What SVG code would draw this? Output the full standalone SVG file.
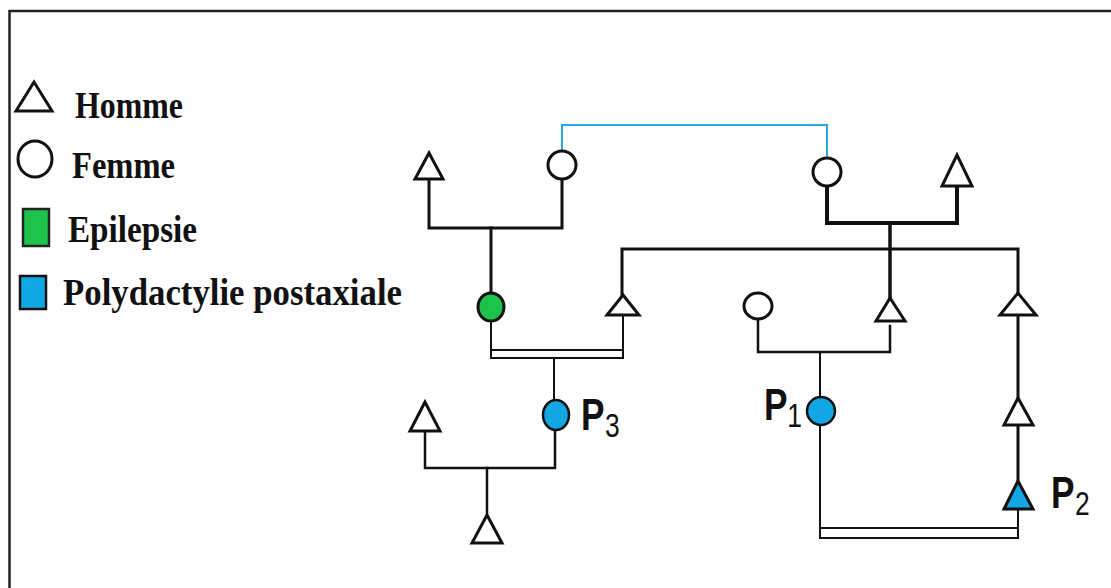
<svg xmlns="http://www.w3.org/2000/svg" width="1111" height="588" viewBox="0 0 1111 588">
<style>
.ln{fill:none;stroke:#111;stroke-width:3;stroke-linecap:square}
.thin{fill:none;stroke:#111;stroke-width:2}
.blue{fill:none;stroke:#2aa8e0;stroke-width:2}
.m{fill:#fff;stroke:#111;stroke-width:3;stroke-linejoin:miter}
.f{fill:#fff;stroke:#111;stroke-width:3}
.aff{fill:#12a6e4}
.epi{fill:#1cc24a}
.leg{font-family:"Liberation Serif",serif;font-weight:bold;font-size:37px;fill:#111}
.pl{font-family:"Liberation Sans",Arial,sans-serif;font-weight:bold;font-size:44px;fill:#111}
.sub{font-weight:normal;font-size:33px}
</style>
<rect width="1111" height="588" fill="#fff"/>
<path d="M9.5 588 V11 H1111" fill="none" stroke="#222" stroke-width="2.5"/>

<g id="legend">
<polygon class="m" points="34,82 16,111 52,111"/>
<text class="leg" x="75" y="118" textLength="108" lengthAdjust="spacingAndGlyphs">Homme</text>
<ellipse class="f" cx="35" cy="159" rx="17" ry="18"/>
<text class="leg" x="72" y="178" textLength="103" lengthAdjust="spacingAndGlyphs">Femme</text>
<rect class="epi" x="23" y="209" width="26" height="37" stroke="#222" stroke-width="2.5"/>
<text class="leg" x="68" y="242" textLength="129" lengthAdjust="spacingAndGlyphs">Epilepsie</text>
<rect class="aff" x="20" y="276" width="26" height="33" stroke="#111" stroke-width="2.5"/>
<text class="leg" x="63" y="305" textLength="339" lengthAdjust="spacingAndGlyphs">Polydactylie postaxiale</text>
</g>

<g id="connectors">
<path class="blue" d="M562 151 V125 H827 V158"/>
<path class="ln" d="M429 179 V228 H562 V179"/>
<path class="ln" d="M491 228 V293"/>
<path class="ln" style="stroke-width:4" d="M827 186 V223 H957 V186"/>
<path class="ln" style="stroke-width:3.5" d="M890 223 V297"/>
<path class="ln" d="M622 295 V249 H1018 V292"/>
<path class="thin" d="M491 321 V350"/>
<path class="thin" d="M623 315 V350"/>
<rect class="thin" x="491" y="350" width="132" height="8"/>
<path class="thin" d="M554 358 V400"/>
<path class="ln" style="stroke-width:2.5" d="M425 431 V468 H555 V430"/>
<path class="ln" style="stroke-width:2.5" d="M487 468 V513"/>
<path class="ln" style="stroke-width:2.5" d="M758 320 V352 H890 V326"/>
<path class="thin" d="M820 352 V397"/>
<path class="thin" d="M820 425 V528"/>
<rect class="thin" x="820" y="528" width="198" height="10"/>
<path class="ln" d="M1018 315 V397"/>
<path class="ln" d="M1018 425 V480"/>
<path class="thin" d="M1018 509 V528"/>
</g>

<g id="I1"><polygon class="m" points="429,153 415,179 443,179"/></g>
<g id="I2"><ellipse class="f" cx="562" cy="165" rx="14" ry="14"/></g>
<g id="I3"><ellipse class="f" cx="827" cy="172" rx="14" ry="14"/></g>
<g id="I4"><polygon class="m" points="957,155 942,186 972,186"/></g>
<g id="II1"><ellipse class="epi" cx="491" cy="307" rx="13" ry="14" stroke="#111" stroke-width="3"/></g>
<g id="II2"><polygon class="m" points="623,295 607,315 639,315"/></g>
<g id="II3"><ellipse class="f" cx="758" cy="306" rx="14" ry="13"/></g>
<g id="II4"><polygon class="m" points="890,298 876,321 905,321"/></g>
<g id="II5"><polygon class="m" points="1018,293 1000,315 1036,315"/></g>
<g id="III1"><polygon class="m" points="425,402 410,431 440,431"/></g>
<g id="P3"><ellipse class="aff" cx="556" cy="415" rx="13" ry="15" stroke="#111" stroke-width="2.5"/>
<text class="pl" transform="translate(581,430) scale(0.8,1)">P<tspan class="sub" x="30" y="7">3</tspan></text></g>
<g id="P1"><ellipse class="aff" cx="821" cy="411" rx="14" ry="14" stroke="#111" stroke-width="2.5"/>
<text class="pl" transform="translate(764,420) scale(0.8,1)">P<tspan class="sub" x="29" y="7">1</tspan></text></g>
<g id="III3"><polygon class="m" points="1018,398 1004,425 1033,425"/></g>
<g id="P2"><polygon class="m" style="fill:#12a6e4" points="1018,481 1004,509 1033,509"/>
<text class="pl" transform="translate(1051,508) scale(0.8,1)">P<tspan class="sub" x="30" y="7">2</tspan></text></g>
<g id="IV1"><polygon class="m" points="487,515 472,543 502,543"/></g>
</svg>
